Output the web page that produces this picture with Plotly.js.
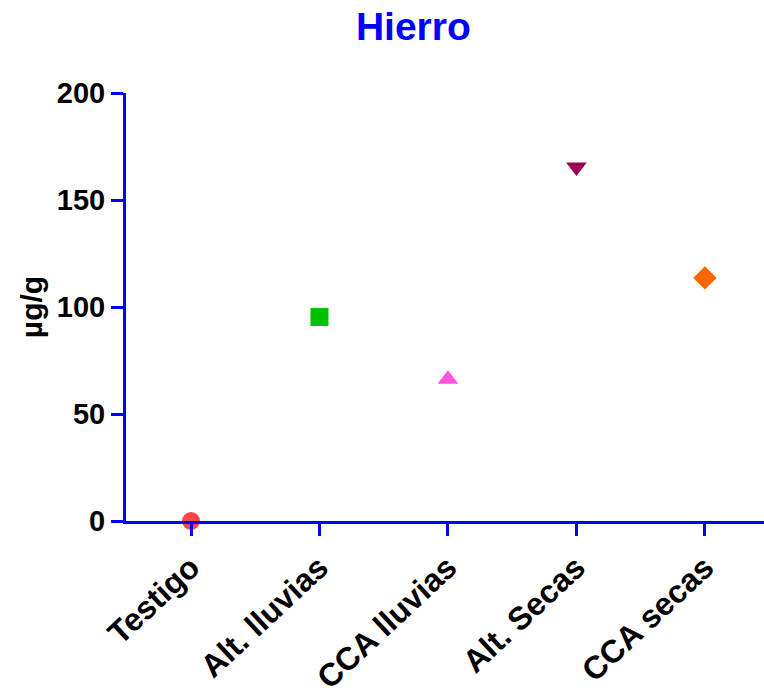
<!DOCTYPE html>
<html>
<head>
<meta charset="utf-8">
<script src="https://cdn.plot.ly/plotly-3.0.1.min.js"></script>
<style>html,body{margin:0;padding:0;background:#fff;}#chart{width:764px;height:695px;}</style>
</head>
<body>
<div id="chart"></div>
<script>
const categories = ["Testigo", "Alt. lluvias", "CCA lluvias", "Alt. Secas", "CCA secas"];
const values = [0, 95.3, 66.2, 165.4, 113.6];
const yTicks = [0, 50, 100, 150, 200];

const markerSymbols = ["circle", "square", "triangle-up", "triangle-down", "diamond"];
const markerColors = ["#ff4444", "#00c000", "#ff55dd", "#990050", "#ff6600"];

const trace = {
  type: "scatter",
  mode: "markers",
  x: categories.map((c, i) => i),
  y: values,
  cliponaxis: false,
  marker: { symbol: markerSymbols, color: markerColors, size: 18, line: { width: 0 } },
  hoverinfo: "x+y"
};

const layout = {
  width: 764, height: 695,
  margin: { l: 126, r: 0, t: 93, b: 174 },
  paper_bgcolor: "#ffffff", plot_bgcolor: "#ffffff",
  showlegend: false,
  font: { family: "Liberation Sans, Arial, sans-serif", color: "#000" },
  title: {
    text: "<b>Hierro</b>",
    font: { size: 39, color: "#0000ff", family: "Liberation Sans, Arial, sans-serif" },
    x: 0.541, xanchor: "center", y: 0.962, yanchor: "middle"
  },
  xaxis: {
    range: [-0.506, 4.46],
    tickmode: "array",
    tickvals: categories.map((c, i) => i),
    ticktext: categories.map(c => "<b>" + c + "</b>"),
    tickangle: -43,
    tickfont: { size: 32, color: "#000" },
    ticks: "outside", ticklen: 12, tickwidth: 3, tickcolor: "#0000ff",
    showline: true, linecolor: "#0000ff", linewidth: 3,
    showgrid: false, zeroline: false, fixedrange: true
  },
  yaxis: {
    range: [0, 200],
    tickmode: "array",
    tickvals: yTicks,
    ticktext: yTicks.map(v => "<b>" + v + "</b>"),
    tickfont: { size: 29, color: "#000" },
    ticks: "outside", ticklen: 12, tickwidth: 3, tickcolor: "#0000ff",
    showline: true, linecolor: "#0000ff", linewidth: 3,
    showgrid: false, zeroline: false, fixedrange: true,
    title: { text: "<b>µg/g</b>", font: { size: 30, color: "#000" }, standoff: 6 }
  }
};

Plotly.newPlot("chart", [trace], layout, { displayModeBar: false, staticPlot: true });
</script>
</body>
</html>
